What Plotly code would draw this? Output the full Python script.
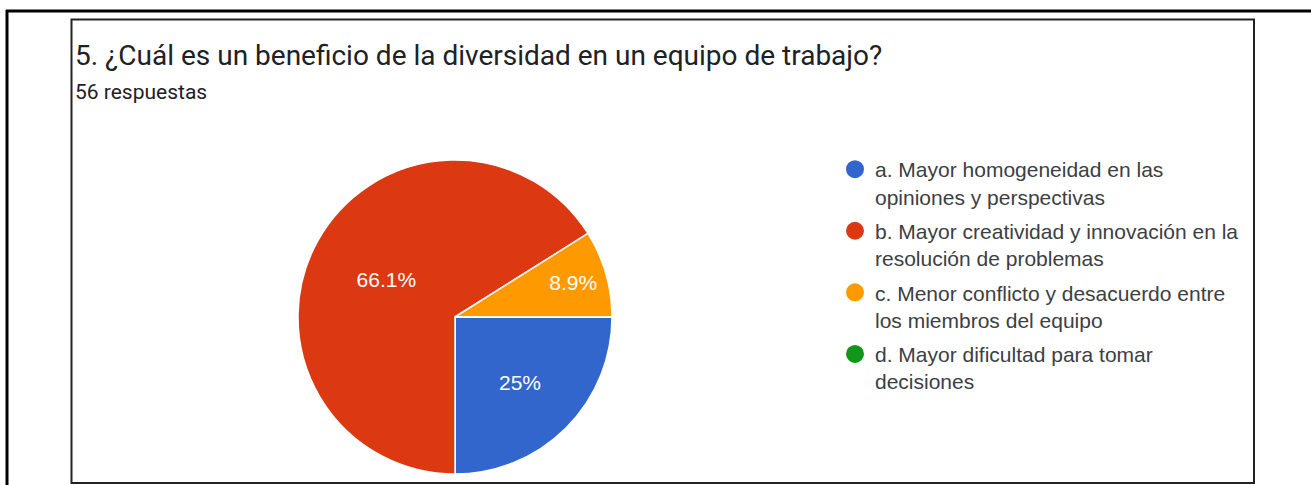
import plotly.graph_objects as go

W, H = 1311, 485

title_text = "5. ¿Cuál es un beneficio de la diversidad en un equipo de trabajo?"
subtitle_text = "56 respuestas"

categories = [
    "a. Mayor homogeneidad en las opiniones y perspectivas",
    "b. Mayor creatividad y innovación en la resolución de problemas",
    "c. Menor conflicto y desacuerdo entre los miembros del equipo",
    "d. Mayor dificultad para tomar decisiones",
]
legend_labels = [
    "a. Mayor homogeneidad en las<br>opiniones y perspectivas",
    "b. Mayor creatividad y innovación en la<br>resolución de problemas",
    "c. Menor conflicto y desacuerdo entre<br>los miembros del equipo",
    "d. Mayor dificultad para tomar<br>decisiones",
]
values = [14, 37, 5, 0]
colors = ["#3366cc", "#dc3912", "#ff9900", "#109618"]

total = sum(values)


def fmt_pct(v):
    if v == 0:
        return ""
    p = round(100.0 * v / total, 1)
    s = f"{p:.1f}"
    if s.endswith(".0"):
        s = s[:-2]
    return s + "%"


pct_text = [fmt_pct(v) for v in values]


def px_x(x):
    return x / W


def px_y(y):
    return 1 - y / H


fig = go.Figure()

# pie centered at (455, 317), radius ~157
cx, cy, r = 455, 317, 157
fig.add_trace(go.Pie(
    labels=categories,
    values=values,
    text=pct_text,
    textinfo="text",
    textposition="inside",
    insidetextorientation="horizontal",
    textfont=dict(family="Liberation Sans, Arial, sans-serif", size=21, color="white"),
    marker=dict(colors=colors, line=dict(color="white", width=1.5)),
    sort=False,
    direction="clockwise",
    rotation=90,
    showlegend=False,
    hoverinfo="label+percent",
    domain=dict(x=[px_x(cx - r), px_x(cx + r)], y=[px_y(cy + r), px_y(cy - r)]),
))

# legend entries with circle markers
for i, (lab, col) in enumerate(zip(legend_labels, colors)):
    fig.add_trace(go.Scatter(
        x=[None], y=[None], mode="markers", name=lab,
        legendgroup=f"g{i}",
        marker=dict(symbol="circle", size=16, color=col, line=dict(color=col, width=2)),
        hoverinfo="skip",
    ))

shapes = [
    # outer frame
    dict(type="line", xref="paper", yref="paper", x0=px_x(6), x1=px_x(1311), y0=px_y(11), y1=px_y(11),
         line=dict(color="#000000", width=3)),
    dict(type="line", xref="paper", yref="paper", x0=px_x(7), x1=px_x(7), y0=px_y(10), y1=px_y(485),
         line=dict(color="#000000", width=3)),
    # inner card
    dict(type="rect", xref="paper", yref="paper", x0=px_x(71.5), x1=px_x(1254), y0=px_y(19.5), y1=px_y(483),
         line=dict(color="#222222", width=2), fillcolor="rgba(0,0,0,0)"),
]

annotations = [
    dict(text=title_text, x=px_x(73), y=px_y(55), xref="paper", yref="paper",
         xanchor="left", yanchor="middle", showarrow=False,
         font=dict(family="Roboto, sans-serif", size=28, color="#202124")),
    dict(text=subtitle_text, x=px_x(73), y=px_y(92), xref="paper", yref="paper",
         xanchor="left", yanchor="middle", showarrow=False,
         font=dict(family="Roboto, sans-serif", size=21, color="#202124")),
]

fig.update_layout(
    width=W, height=H,
    margin=dict(l=0, r=0, t=0, b=0),
    paper_bgcolor="white",
    plot_bgcolor="white",
    xaxis=dict(visible=False),
    yaxis=dict(visible=False),
    shapes=shapes,
    annotations=annotations,
    showlegend=True,
    legend=dict(
        x=px_x(835), y=px_y(149), xanchor="left", yanchor="top",
        valign="top",
        font=dict(family="Liberation Sans, Arial, sans-serif", size=21, color="#3c4043"),
        bgcolor="rgba(0,0,0,0)",
        tracegroupgap=4,
        itemclick=False, itemdoubleclick=False,
    ),
)

fig.write_html(
    "out.html",
    config={"displayModeBar": False},
    post_script="document.body.style.margin='0';document.body.style.overflow='hidden';",
)
